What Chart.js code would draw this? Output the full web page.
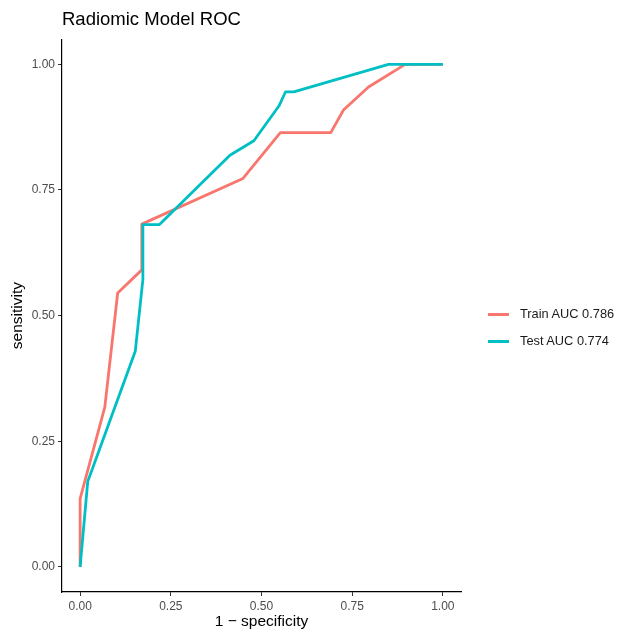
<!DOCTYPE html>
<html>
<head>
<meta charset="utf-8">
<script src="https://cdn.jsdelivr.net/npm/chart.js@4/dist/chart.umd.min.js"></script>
<style>
  html, body { margin: 0; padding: 0; background: #fff; }
  #wrap { position: relative; width: 617px; height: 632px; }
  #legend { position: absolute; left: 488px; top: 303px; font-family: "Liberation Sans", Arial, sans-serif; font-size: 12.8px; color: #1a1a1a; }
  .item { position: relative; height: 27px; }
  .sw { position: absolute; left: 0; top: 10px; width: 21px; height: 3px; }
  .lab { position: absolute; left: 32px; top: 3px; white-space: nowrap; }
</style>
</head>
<body>
<div id="wrap">
  <canvas id="c" width="617" height="632"></canvas>
  <div id="legend"></div>
</div>
<script>
const titleText = "Radiomic Model ROC";
const xTitle = "1 \u2212 specificity";
const yTitle = "sensitivity";
const seriesNames = ["Train AUC 0.786", "Test AUC 0.774"];
const seriesColors = ["#F8766D", "#00BFC4"];
const tickValues = [0, 0.25, 0.5, 0.75, 1];

const trainX = [0, 0, 0.068, 0.1035, 0.170, 0.170, 0.449, 0.552, 0.691, 0.726, 0.795, 0.896, 1];
const trainY = [0, 0.136, 0.318, 0.545, 0.591, 0.682, 0.773, 0.864, 0.864, 0.909, 0.955, 1, 1];
const testX = [0, 0.021, 0.152, 0.173, 0.173, 0.218, 0.413, 0.479, 0.548, 0.566, 0.589, 0.850, 1];
const testY = [0, 0.170, 0.429, 0.572, 0.681, 0.681, 0.819, 0.848, 0.917, 0.945, 0.945, 1, 1];

const toPts = (xs, ys) => xs.map((x, i) => ({x: x, y: ys[i]}));

const legend = document.getElementById('legend');
seriesNames.forEach((n, i) => {
  const d = document.createElement('div'); d.className = 'item';
  d.innerHTML = '<div class="sw" style="background:' + seriesColors[i] + '"></div><div class="lab">' + n + '</div>';
  legend.appendChild(d);
});

const FONT = '"Liberation Sans", Arial, sans-serif';
const axisCommon = {
  type: 'linear', min: -0.05, max: 1.05,
  afterBuildTicks: s => { s.ticks = tickValues.map(v => ({value: v})); },
  grid: { drawOnChartArea: false, drawTicks: true, tickLength: 4, color: '#333333', lineWidth: 1 },
  border: { display: true, color: '#000000', width: 1.2 },
  ticks: { color: '#4D4D4D', font: { family: FONT, size: 12 }, padding: 3, callback: v => Number(v).toFixed(2), maxRotation: 0, autoSkip: false }
};

new Chart(document.getElementById('c'), {
  type: 'scatter',
  data: {
    datasets: [
      { label: seriesNames[0], data: toPts(trainX, trainY), showLine: true, borderColor: seriesColors[0], backgroundColor: seriesColors[0], borderWidth: 2.8, pointRadius: 0, order: 1, borderJoinStyle: 'round' },
      { label: seriesNames[1], data: toPts(testX, testY), showLine: true, borderColor: seriesColors[1], backgroundColor: seriesColors[1], borderWidth: 2.8, pointRadius: 0, order: 0, borderJoinStyle: 'round' }
    ]
  },
  options: {
    responsive: false, animation: false, devicePixelRatio: 1,
    layout: { padding: { left: 0, right: 156, top: 0, bottom: 0 } },
    plugins: {
      legend: { display: false }, tooltip: { enabled: false },
      title: { display: true, text: titleText, align: 'start', fullSize: false, color: '#000', font: { family: FONT, size: 18.5, weight: 'normal' }, padding: { top: 9, bottom: 8 } }
    },
    scales: {
      x: Object.assign({}, axisCommon, {
        position: 'bottom',
        title: { display: true, text: xTitle, color: '#000', font: { family: FONT, size: 15.5 }, padding: { top: 0, bottom: 1 } },
        afterFit: s => { s.height = 40; }
      }),
      y: Object.assign({}, axisCommon, {
        position: 'left',
        title: { display: true, text: yTitle, color: '#000', font: { family: FONT, size: 15.5 }, padding: { top: 8, bottom: 0 } },
        afterFit: s => { s.width = 62; }
      })
    }
  }
});
</script>
</body>
</html>
